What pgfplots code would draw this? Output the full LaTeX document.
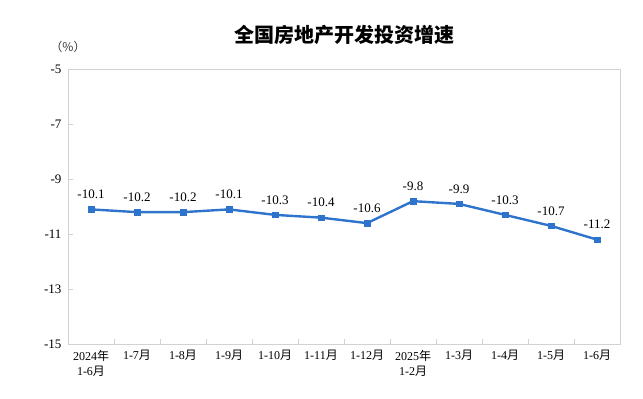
\documentclass[border=0pt]{standalone}
\usepackage{fontspec}
\usepackage{pgfplots}
\pgfplotsset{compat=1.18}
\setmainfont{Liberation Serif}
\newfontfamily\cjk{Noto Sans CJK SC}
\definecolor{lineblue}{RGB}{46,116,204}
\definecolor{framegray}{RGB}{210,210,210}
\newcommand{\Y}{{\cjk 年}}
\newcommand{\M}{{\cjk 月}}
\begin{document}
\begin{tikzpicture}
\path[use as bounding box] (0,0) rectangle (643bp,399bp);
\begin{axis}[
  at={(68bp,55bp)}, anchor=south west,
  width=552bp, height=274.7bp, scale only axis,
  xmin=-0.5, xmax=11.5, ymin=-15, ymax=-5,
  axis line style={framegray, line width=1bp},
  ytick={-15,-13,-11,-9,-7,-5},
  yticklabels={{-15},{-13},{-11},{-9},{-7},{-5}},
  xtick={0,...,11},
  xticklabels={{2024\Y\\1-6\M},{1-7\M},{1-8\M},{1-9\M},{1-10\M},{1-11\M},{1-12\M},{2025\Y\\1-2\M},{1-3\M},{1-4\M},{1-5\M},{1-6\M}},
  xticklabel style={align=center, font=\fontsize{12bp}{15bp}\selectfont, yshift=-3bp},
  yticklabel style={font=\fontsize{13bp}{15bp}\selectfont, xshift=-3bp},
  major x tick style={draw=none},
  minor xtick={0.5,1.5,...,10.5},
  minor tick length=5bp,
  major tick length=5bp,
  tick style={framegray, line width=1bp},
  ytick pos=left, xtick pos=bottom,
  tick align=inside,
  clip=false,
  point meta=explicit symbolic,
  nodes near coords={\pgfplotspointmeta},
  nodes near coords style={font=\fontsize{13bp}{15bp}\selectfont, anchor=south, yshift=7bp, text=black},
]
\addplot[lineblue, line width=2.4bp, mark=square*, mark size=2.8bp, mark options={fill=lineblue, draw=lineblue, line width=0.5bp}]
coordinates {
(0,-10.1) [-10.1]
(1,-10.2) [-10.2]
(2,-10.2) [-10.2]
(3,-10.1) [-10.1]
(4,-10.3) [-10.3]
(5,-10.4) [-10.4]
(6,-10.6) [-10.6]
(7,-9.8) [-9.8]
(8,-9.9) [-9.9]
(9,-10.3) [-10.3]
(10,-10.7) [-10.7]
(11,-11.2) [-11.2]
};
\node[font=\fontsize{20bp}{24bp}\cjk\bfseries] at ([yshift=34bp]rel axis cs:0.5,1) {全国房地产开发投资增速};
\node[font=\fontsize{12bp}{14bp}\cjk, text=black!80] at ([yshift=22.6bp]rel axis cs:0,1) {（\%）};
\end{axis}
\end{tikzpicture}
\end{document}
